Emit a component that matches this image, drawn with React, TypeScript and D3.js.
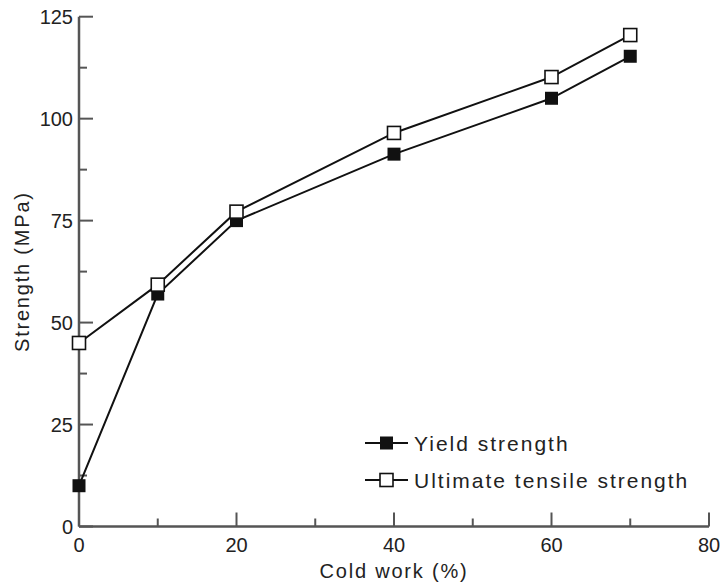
import React from 'react'
import * as d3 from 'd3'

const coldWork = [0, 10, 20, 40, 60, 70]
const yieldStrength = [10, 57, 75, 91.3, 105, 115.3]
const tensileStrength = [45, 59.3, 77.2, 96.5, 110.2, 120.5]

const xMajor = [0, 20, 40, 60, 80]
const xMinor = [10, 30, 50, 70]
const yMajor = [0, 25, 50, 75, 100, 125]
const yMinor = [12.5, 37.5, 62.5, 87.5, 112.5]

const seriesNames = ['Yield strength', 'Ultimate tensile strength']

const width = 727
const height = 584
const margin = {left: 79, right: 18, top: 16.7, bottom: 57.5}

const axisColor = '#555'
const textColor = '#222'
const font = '"Liberation Sans", Arial, sans-serif'

export default function App() {
  const x = d3.scaleLinear().domain([0, 80]).range([margin.left, width - margin.right])
  const y = d3.scaleLinear().domain([0, 125]).range([height - margin.bottom, margin.top])

  const line = d3.line<number>()
    .x((d, i) => x(coldWork[i]))
    .y(d => y(d))

  const series = [
    {name: seriesNames[0], values: yieldStrength, filled: true},
    {name: seriesNames[1], values: tensileStrength, filled: false},
  ]

  const sq = 13
  const x0 = x(0)
  const y0 = y(0)

  return <svg width={width} height={height} style={{position: 'absolute', left: 0, top: 0, background: 'white'}}>
    {/* axes */}
    <line x1={x0} x2={x0} y1={y0} y2={y(125)} stroke={axisColor} strokeWidth={2.5}/>
    <line x1={x0} x2={x(80)} y1={y0} y2={y0} stroke={axisColor} strokeWidth={2.5}/>

    {yMajor.map(v => <g key={'ym' + v}>
      <line x1={x0} x2={x0 + 14} y1={y(v)} y2={y(v)} stroke={axisColor} strokeWidth={2}/>
      <text x={x0 - 6} y={y(v)} dy="0.36em" textAnchor="end" fontSize={20} fontFamily={font} fill={textColor}>{v}</text>
    </g>)}
    {yMinor.map(v => <line key={'yn' + v} x1={x0} x2={x0 + 8} y1={y(v)} y2={y(v)} stroke={axisColor} strokeWidth={2}/>)}

    {xMajor.map(v => <g key={'xm' + v}>
      <line x1={x(v)} x2={x(v)} y1={y0} y2={y0 - 14} stroke={axisColor} strokeWidth={2}/>
      <text x={x(v)} y={y0 + 25} textAnchor="middle" fontSize={20} fontFamily={font} fill={textColor}>{v}</text>
    </g>)}
    {xMinor.map(v => <line key={'xn' + v} x1={x(v)} x2={x(v)} y1={y0} y2={y0 - 8} stroke={axisColor} strokeWidth={2}/>)}

    <text x={x(40)} y={height - 6} textAnchor="middle" fontSize={20} letterSpacing={1.8} fontFamily={font} fill={textColor}>Cold work (%)</text>
    <text transform={`translate(29, ${(y0 + y(125)) / 2}) rotate(-90)`} textAnchor="middle" fontSize={20} letterSpacing={1.8} fontFamily={font} fill={textColor}>Strength (MPa)</text>

    {/* series */}
    {series.map(s => <g key={s.name}>
      <path d={line(s.values) || ''} fill="none" stroke="#111" strokeWidth={2}/>
      {s.values.map((v, i) => <rect key={i}
        x={x(coldWork[i]) - sq / 2} y={y(v) - sq / 2} width={sq} height={sq}
        fill={s.filled ? '#111' : 'white'} stroke="#111" strokeWidth={s.filled ? 0 : 1.6}/>)}
    </g>)}

    {/* legend */}
    {series.map((s, i) => {
      const ly = 443 + i * 37
      return <g key={'lg' + s.name}>
        <line x1={365} x2={408} y1={ly} y2={ly} stroke="#111" strokeWidth={2}/>
        <rect x={386.5 - sq / 2} y={ly - sq / 2} width={sq} height={sq}
          fill={s.filled ? '#111' : 'white'} stroke="#111" strokeWidth={s.filled ? 0 : 1.6}/>
        <text x={414} y={ly} dy="0.36em" fontSize={21} letterSpacing={2} fontFamily={font} fill={textColor}>{s.name}</text>
      </g>
    })}
  </svg>
}
